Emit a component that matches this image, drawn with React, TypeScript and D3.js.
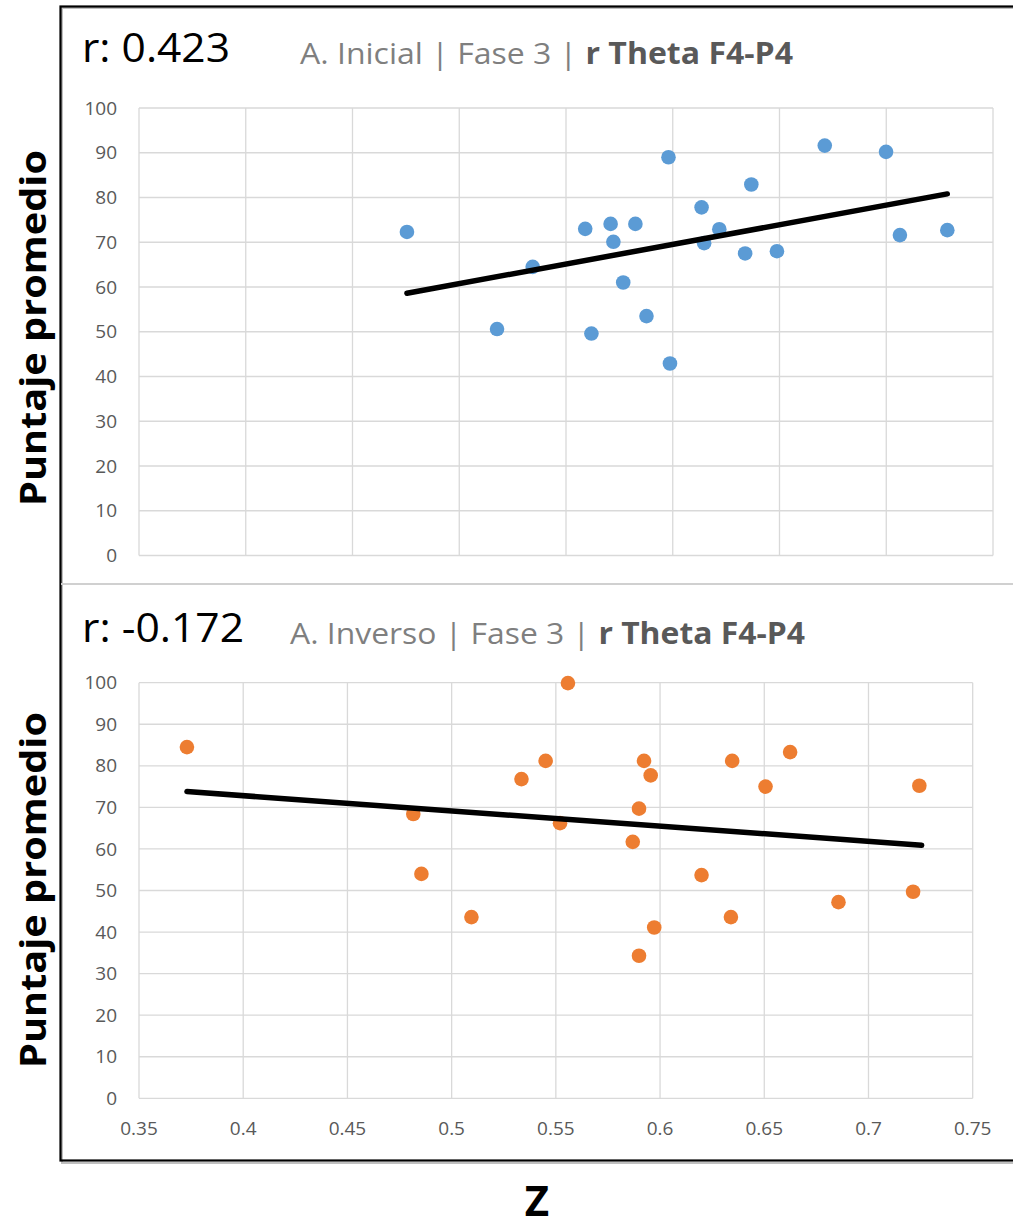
import React from "react";
import * as d3 from "d3";

// ---------- DATA ----------
const xTickValues = [0.35, 0.4, 0.45, 0.5, 0.55, 0.6, 0.65, 0.7, 0.75];
const xTickLabels = ["0.35", "0.4", "0.45", "0.5", "0.55", "0.6", "0.65", "0.7", "0.75"];
const yTickValues = [0, 10, 20, 30, 40, 50, 60, 70, 80, 90, 100];

// A. Inicial | Fase 3
const inicialZ = [0.4755, 0.5177, 0.5344, 0.559, 0.5709, 0.5722, 0.5825, 0.5768, 0.5619, 0.5877, 0.598,
  0.5987, 0.6135, 0.6147, 0.6218, 0.6368, 0.6339, 0.6488, 0.6712, 0.6999, 0.7064, 0.7286];
const inicialScore = [72.3, 50.6, 64.5, 73.0, 74.1, 70.1, 74.1, 61.0, 49.6, 53.5, 89.0,
  42.9, 77.8, 69.8, 72.9, 82.9, 67.5, 68.0, 91.6, 90.2, 71.6, 72.7];
const inicialTrendZ = [0.4755, 0.7286];
const inicialTrendScore = [58.6, 80.8];

// A. Inverso | Fase 3
const inversoZ = [0.373, 0.4816, 0.4855, 0.5095, 0.5335, 0.5451, 0.5558, 0.552, 0.5923, 0.5955, 0.5899,
  0.5869, 0.5972, 0.5899, 0.6199, 0.634, 0.6346, 0.6506, 0.6624, 0.6856, 0.7214, 0.7244];
const inversoScore = [84.5, 68.4, 54.0, 43.6, 76.8, 81.2, 99.9, 66.2, 81.2, 77.7, 69.7,
  61.7, 41.1, 34.3, 53.7, 43.6, 81.2, 75.0, 83.3, 47.2, 49.7, 75.2];
const inversoTrendZ = [0.373, 0.7255];
const inversoTrendScore = [73.8, 60.9];

const panelR = ["r: 0.423", "r: -0.172"];
const panelGroup = ["A. Inicial", "A. Inverso"];
const panelPhase = "Fase 3";
const panelMeasure = "r Theta F4-P4";
const yTitle = "Puntaje promedio";
const xTitle = "Z";

// ---------- LAYOUT ----------
const W = 1013;
const H = 1228;
const FONT = "'Open Sans', 'Noto Sans', sans-serif";
const GRID = "#d9d9d9";
const TICK = "#595959";

type PanelProps = {
  x0: number; x1: number; y0: number; y1: number;
  zs: number[]; scores: number[]; tz: number[]; ts: number[];
  color: string; showX: boolean;
  header: { r: string; group: string; baseY: number; rW: number; subX: number; subW: number };
  yTitleCenter: number;
};

function Panel(p: PanelProps) {
  const x = d3.scaleLinear().domain([0.35, 0.75]).range([p.x0, p.x1]);
  const y = d3.scaleLinear().domain([0, 100]).range([p.y1, p.y0]);
  const line = d3.line<number>().x((d) => x(p.tz[d])).y((d) => y(p.ts[d]));
  return (
    <g>
      {/* gridlines */}
      {yTickValues.map((t) => (
        <line key={"h" + t} x1={p.x0} x2={p.x1} y1={y(t)} y2={y(t)} stroke={GRID} strokeWidth={1.3} />
      ))}
      {xTickValues.map((t) => (
        <line key={"v" + t} x1={x(t)} x2={x(t)} y1={p.y0} y2={p.y1} stroke={GRID} strokeWidth={1.3} />
      ))}
      {/* y tick labels */}
      {yTickValues.map((t) => (
        <text key={"yl" + t} x={p.x0 - 22} y={y(t)} dy="0.35em" textAnchor="end"
          fontFamily={FONT} fontSize={19} fill={TICK}>{t}</text>
      ))}
      {p.showX && xTickValues.map((t, i) => (
        <text key={"xl" + t} x={x(t)} y={p.y1 + 30} dy="0.35em" textAnchor="middle"
          fontFamily={FONT} fontSize={19} fill={TICK}>{xTickLabels[i]}</text>
      ))}
      {/* points */}
      {p.zs.map((z, i) => (
        <circle key={"pt" + i} cx={x(z)} cy={y(p.scores[i])} r={7.3} fill={p.color} />
      ))}
      {/* trend line */}
      <path d={line([0, 1]) || ""} stroke="#000" strokeWidth={5.5} strokeLinecap="round" fill="none" />
      {/* header */}
      <text x={82} y={p.header.baseY} fontFamily={FONT} fontSize={40} fill="#000"
        textLength={p.header.rW} lengthAdjust="spacingAndGlyphs">{p.header.r}</text>
      <text x={p.header.subX} y={p.header.baseY + 2} fontFamily={FONT} fontSize={30} fill="#7f7f7f"
        textLength={p.header.subW} lengthAdjust="spacingAndGlyphs">
        {`${p.header.group} | ${panelPhase} | `}
        <tspan fontWeight="bold" fill="#595959">{panelMeasure}</tspan>
      </text>
      {/* y title */}
      <text transform={`translate(46,${p.yTitleCenter}) rotate(-90)`} textAnchor="middle"
        fontFamily={FONT} fontWeight="bold" fontSize={35} fill="#000"
        textLength={356} lengthAdjust="spacingAndGlyphs">{yTitle}</text>
    </g>
  );
}

export default function App() {
  return (
    <svg width={W} height={H} style={{ position: "absolute", left: 0, top: 0, background: "#fff" }}>
      <rect x={0} y={0} width={W} height={H} fill="#fff" />
      {/* outer frame with slight shadow */}
      <rect x={62} y={8} width={W} height={1155} fill="none" stroke="#bfbfbf" strokeWidth={2} />
      <rect x={60.5} y={6.5} width={W} height={1154} fill="none" stroke="#000" strokeWidth={2.2} />
      <line x1={61} x2={W} y1={584} y2={584} stroke="#d0d0d0" strokeWidth={2} />
      <Panel x0={139} x1={993} y0={108} y1={555.5}
        zs={inicialZ} scores={inicialScore} tz={inicialTrendZ} ts={inicialTrendScore}
        color="#5B9BD5" showX={false}
        header={{ r: panelR[0], group: panelGroup[0], baseY: 62, rW: 148, subX: 300, subW: 493 }}
        yTitleCenter={328} />
      <Panel x0={139} x1={972.7} y0={682.7} y1={1098.3}
        zs={inversoZ} scores={inversoScore} tz={inversoTrendZ} ts={inversoTrendScore}
        color="#ED7D31" showX={true}
        header={{ r: panelR[1], group: panelGroup[1], baseY: 642, rW: 162, subX: 290, subW: 515 }}
        yTitleCenter={890} />
      <text x={537} y={1216} textAnchor="middle" fontFamily={FONT} fontWeight="bold" fontSize={42} fill="#000">{xTitle}</text>
    </svg>
  );
}
